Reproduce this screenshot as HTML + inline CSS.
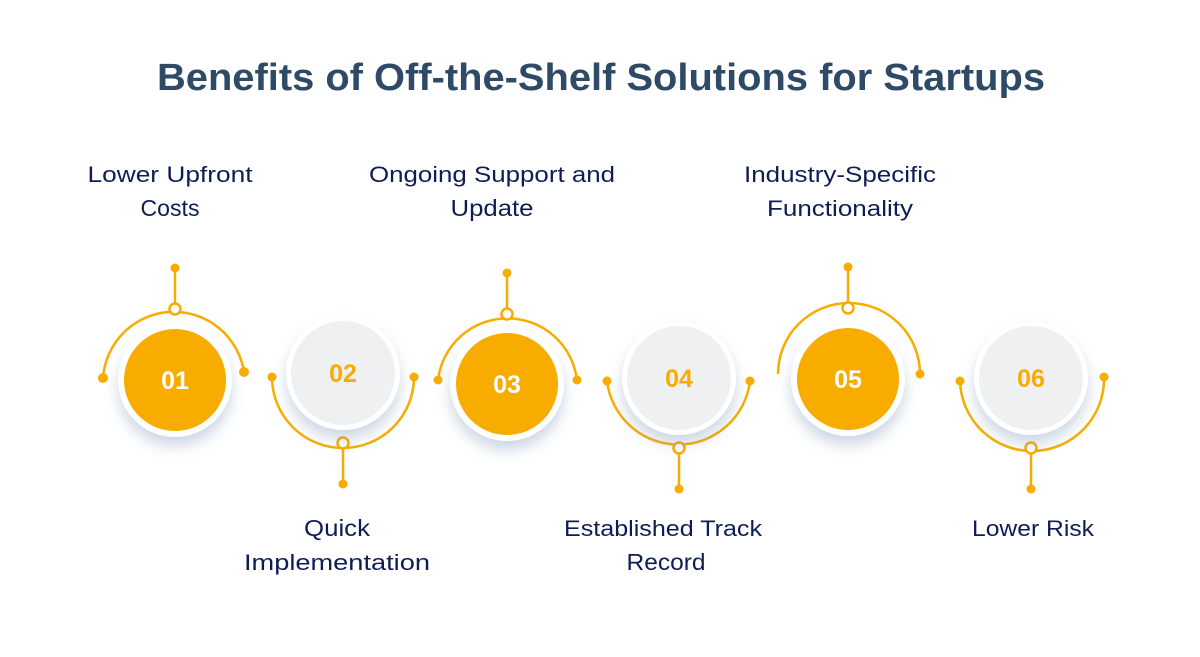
<!DOCTYPE html>
<html><head><meta charset="utf-8"><style>
html,body{margin:0;padding:0;background:#fff;}
svg{display:block;font-family:"Liberation Sans",sans-serif;}
</style></head><body>
<svg width="1200" height="657" viewBox="0 0 1200 657" xmlns="http://www.w3.org/2000/svg">
<defs>
<filter id="sh" x="-50%" y="-50%" width="200%" height="200%">
<feDropShadow dx="0" dy="9" stdDeviation="7" flood-color="#6f8fb0" flood-opacity="0.35"/>
</filter>
</defs>
<text x="601" y="90" text-anchor="middle" font-size="38" font-weight="bold" fill="#2e4a66" textLength="888" lengthAdjust="spacingAndGlyphs">Benefits of Off-the-Shelf Solutions for Startups</text>

<g font-size="22" fill="#0f1d55" text-anchor="middle">
<text x="170" y="182" textLength="165" lengthAdjust="spacingAndGlyphs">Lower Upfront</text>
<text x="170" y="216" font-size="23" textLength="59" lengthAdjust="spacingAndGlyphs">Costs</text>
<text x="492" y="182" textLength="246" lengthAdjust="spacingAndGlyphs">Ongoing Support and</text>
<text x="492" y="216" font-size="23" textLength="83" lengthAdjust="spacingAndGlyphs">Update</text>
<text x="840" y="182" textLength="192" lengthAdjust="spacingAndGlyphs">Industry-Specific</text>
<text x="840" y="216" textLength="146" lengthAdjust="spacingAndGlyphs">Functionality</text>
<text x="337" y="536" font-size="23" textLength="66" lengthAdjust="spacingAndGlyphs">Quick</text>
<text x="337" y="570" textLength="186" lengthAdjust="spacingAndGlyphs">Implementation</text>
<text x="663" y="536" textLength="198" lengthAdjust="spacingAndGlyphs">Established Track</text>
<text x="666" y="570" font-size="23" textLength="79" lengthAdjust="spacingAndGlyphs">Record</text>
<text x="1033" y="536" textLength="122" lengthAdjust="spacingAndGlyphs">Lower Risk</text>
</g>

<g stroke="#f9ac00" stroke-width="2.5" fill="none">
<path d="M103 378 A71 71 0 0 1 244 372"/><line x1="175" y1="268" x2="175" y2="309"/>
<path d="M272 377 A71 71 0 0 0 414 377"/><line x1="343" y1="443" x2="343" y2="484"/>
<path d="M438 380 A70 70 0 0 1 577 380"/><line x1="507" y1="273" x2="507" y2="314"/>
<path d="M607 381 A72 72 0 0 0 750 381"/><line x1="679" y1="448" x2="679" y2="489"/>
<path d="M778 374 A71 71 0 0 1 920 374"/><line x1="848" y1="267" x2="848" y2="308"/>
<path d="M960 381 A72 72 0 0 0 1104 377"/><line x1="1031" y1="448" x2="1031" y2="489"/>
</g>
<g fill="#f9ac00">
<circle cx="103" cy="378" r="5"/><circle cx="244" cy="372" r="5"/><circle cx="175" cy="268" r="4.5"/>
<circle cx="272" cy="377" r="4.5"/><circle cx="414" cy="377" r="4.5"/><circle cx="343" cy="484" r="4.5"/>
<circle cx="438" cy="380" r="4.5"/><circle cx="577" cy="380" r="4.5"/><circle cx="507" cy="273" r="4.5"/>
<circle cx="607" cy="381" r="4.5"/><circle cx="750" cy="381" r="4.5"/><circle cx="679" cy="489" r="4.5"/>
<circle cx="920" cy="374" r="4.5"/><circle cx="848" cy="267" r="4.5"/>
<circle cx="960" cy="381" r="4.5"/><circle cx="1104" cy="377" r="4.5"/><circle cx="1031" cy="489" r="4.5"/>
</g>
<g fill="#fff" stroke="#f9ac00" stroke-width="2.5">
<circle cx="175" cy="309" r="5.5"/><circle cx="343" cy="443" r="5.5"/><circle cx="507" cy="314" r="5.5"/>
<circle cx="679" cy="448" r="5.5"/><circle cx="848" cy="308" r="5.5"/><circle cx="1031" cy="448" r="5.5"/>
</g>

<g filter="url(#sh)" fill="#fff">
<circle cx="175" cy="380" r="57"/><circle cx="343" cy="373" r="57"/><circle cx="507" cy="384" r="57"/>
<circle cx="679" cy="378" r="57"/><circle cx="848" cy="379" r="57"/><circle cx="1031" cy="378" r="57"/>
</g>
<circle cx="175" cy="380" r="51" fill="#f9ac00"/>
<circle cx="343" cy="373" r="52" fill="#eff0f2"/>
<circle cx="507" cy="384" r="51" fill="#f9ac00"/>
<circle cx="679" cy="378" r="52" fill="#eff0f2"/>
<circle cx="848" cy="379" r="51" fill="#f9ac00"/>
<circle cx="1031" cy="378" r="52" fill="#eff0f2"/>

<g font-size="25" font-weight="bold" text-anchor="middle">
<text x="175" y="389" fill="#fff">01</text>
<text x="343" y="382" fill="#f9ac00">02</text>
<text x="507" y="393" fill="#fff">03</text>
<text x="679" y="387" fill="#f9ac00">04</text>
<text x="848" y="388" fill="#fff">05</text>
<text x="1031" y="387" fill="#f9ac00">06</text>
</g>
</svg>
</body></html>
